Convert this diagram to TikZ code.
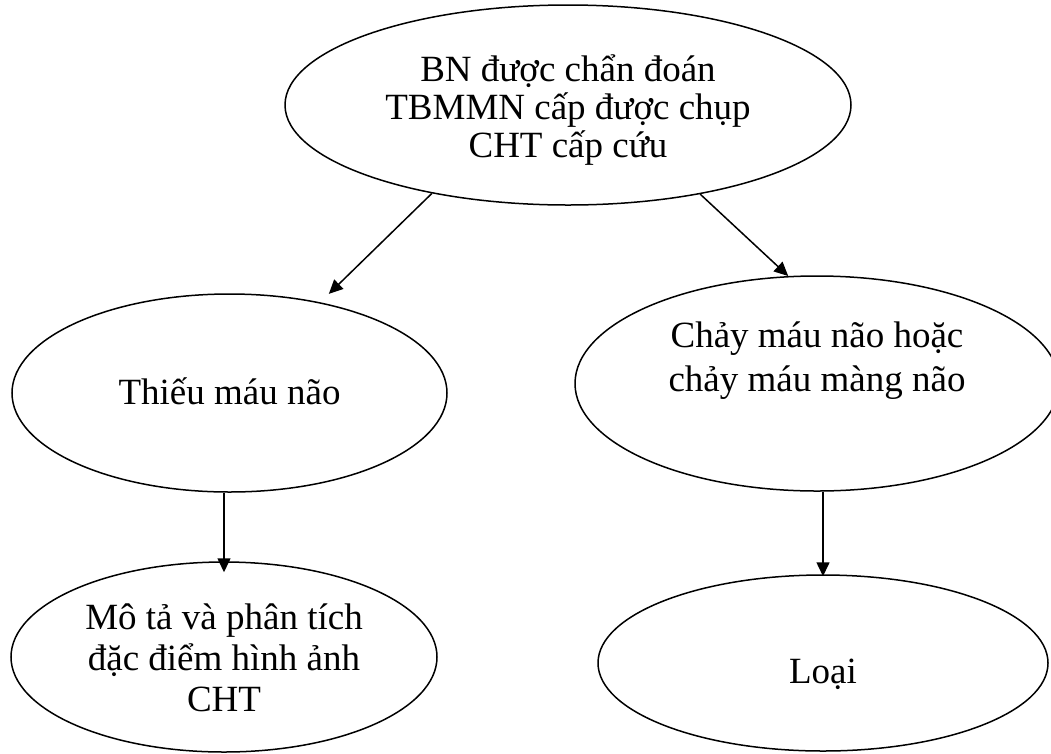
\documentclass[tikz,border=0pt]{standalone}
\usepackage{fontspec}
\setmainfont{Liberation Serif}
\usetikzlibrary{arrows.meta,shapes.geometric}
\begin{document}
\begin{tikzpicture}[x=1pt,y=-1pt,
  ell/.style={draw, ellipse, line width=1.5pt, inner sep=0pt},
  txt/.style={align=center, inner sep=0pt},
  arr/.style={line width=1.5pt, -{Triangle[length=14pt,width=13pt]}}]
\clip (0,0) rectangle (1051,753);
\node[ell, minimum width=566pt, minimum height=200pt,
  label={[txt, yshift=-5pt, font=\fontsize{37}{38}\selectfont]center:BN được chẩn đoán\\TBMMN cấp được chụp\\CHT cấp cứu}]
  (top) at (568,105) {};
\node[ell, minimum width=435pt, minimum height=198pt,
  label={[txt, yshift=2pt, font=\fontsize{37}{37.5}\selectfont]center:Thiếu máu não}]
  (left) at (229.5,393) {};
\node[ell, minimum width=484pt, minimum height=215pt,
  label={[txt, yshift=23pt, font=\fontsize{37}{44}\selectfont]center:Chảy máu não hoặc\\chảy máu màng não}]
  (right) at (817,383.5) {};
\node[ell, minimum width=426pt, minimum height=190pt,
  label={[txt, yshift=-1pt, font=\fontsize{37}{41}\selectfont]center:Mô tả và phân tích\\đặc điểm hình ảnh\\CHT}]
  (botleft) at (224,657) {};
\node[ell, minimum width=450pt, minimum height=176pt,
  label={[txt, yshift=-11pt, font=\fontsize{37}{37.5}\selectfont]center:Loại}]
  (botright) at (823,663) {};
\draw[arr, shorten >=12pt] (top.213.8) -- (left.45.9);
\draw[arr] (top.326) -- (right.105);
\draw[arr, shorten >=-11pt] (left.south -| botleft.north) -- (botleft.north);
\draw[arr, shorten >=-2pt] (right.south -| botright.north) -- (botright.north);
\end{tikzpicture}
\end{document}
